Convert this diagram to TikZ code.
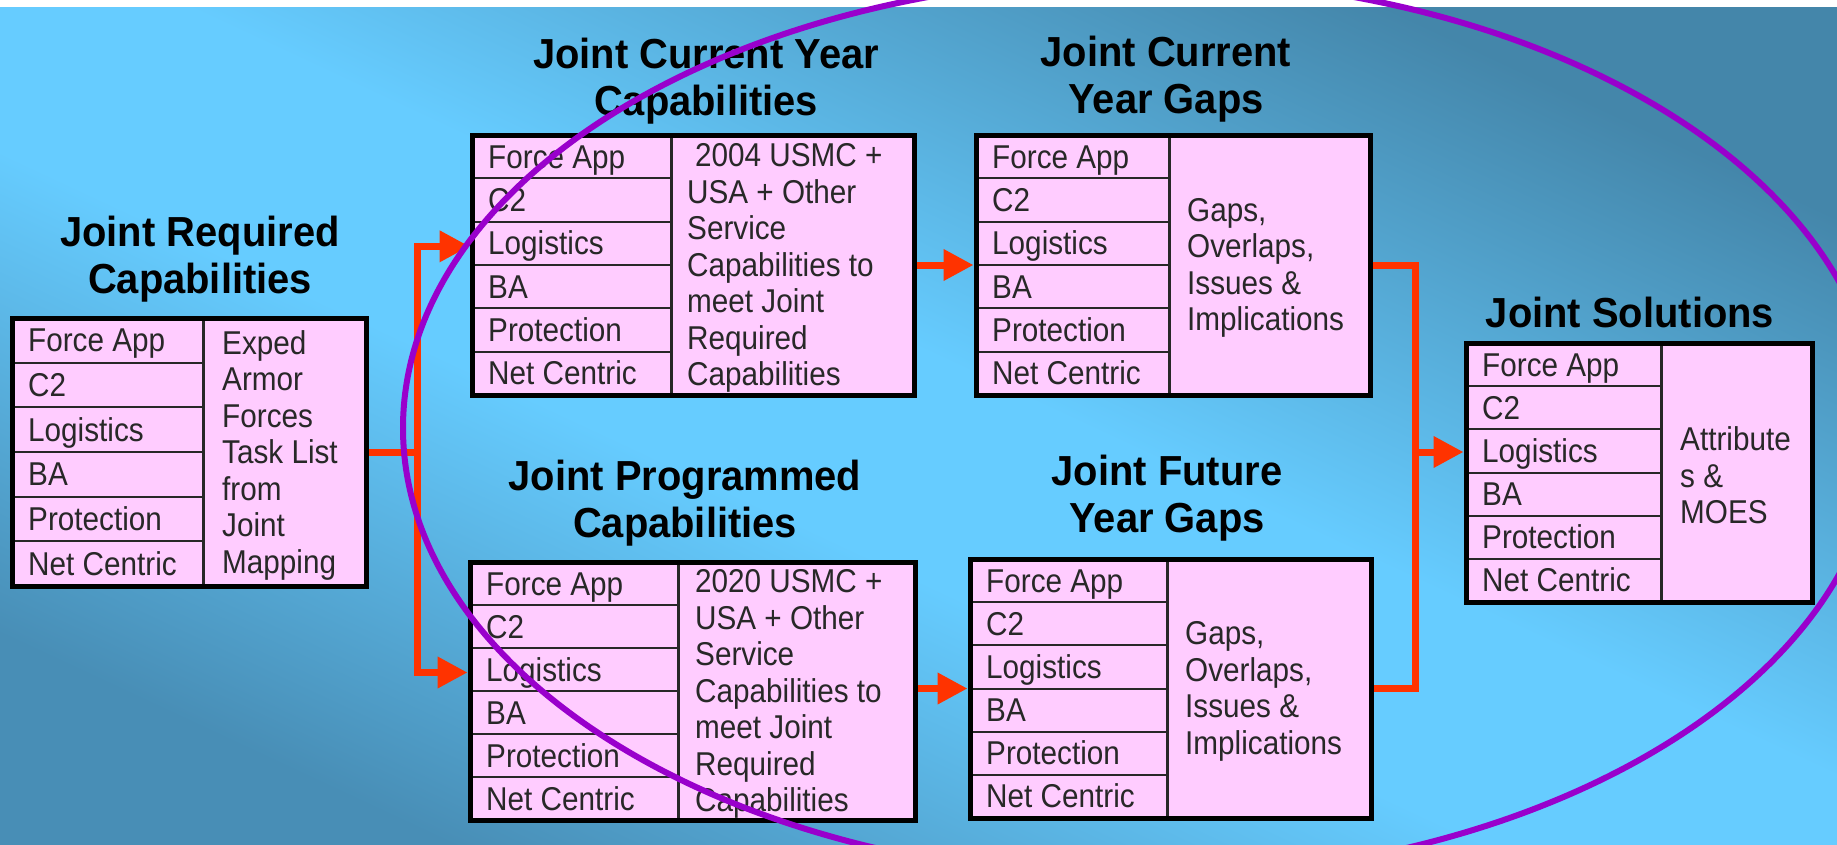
\documentclass[tikz,border=0pt]{standalone}
\usepackage{fontspec}
\setmainfont{Liberation Sans}
\newfontfamily\bodyfont{Liberation Sans}[FakeStretch=0.9]
\newfontfamily\titlefont{Liberation Sans}[FakeStretch=0.95]
\usetikzlibrary{arrows.meta}
\definecolor{bglt}{RGB}{102,204,255}
\definecolor{bgdkA}{RGB}{68,134,170}
\definecolor{bgdkB}{RGB}{72,142,182}
\definecolor{boxpink}{RGB}{255,204,255}
\definecolor{arrred}{RGB}{255,51,0}
\definecolor{ringpurple}{RGB}{153,0,204}
\definecolor{txtdark}{RGB}{40,40,40}
\pgfdeclareverticalshading{bgshade}{100bp}{color(0bp)=(bgdkB); color(25bp)=(bgdkB); color(44bp)=(bglt); color(53bp)=(bglt); color(75bp)=(bgdkA); color(100bp)=(bgdkA)}
\tikzset{
  boxframe/.style={draw=black, line width=5pt, inner sep=0pt, anchor=center},
  rowline/.style={draw=txtdark, line width=2pt},
  divline/.style={draw=txtdark, line width=3pt},
  rowtext/.style={font=\bodyfont\fontsize{33}{36.5}\selectfont, text=txtdark, inner sep=0pt, anchor=west, text height=24pt, text depth=7pt},
  celltext/.style={font=\bodyfont\fontsize{33}{36.5}\selectfont, text=txtdark, inner sep=0pt, anchor=west, align=left},
  titletext/.style={font=\titlefont\bfseries\fontsize{42}{47}\selectfont, text=black, align=center, inner sep=0pt},
  conn/.style={draw=arrred, line width=7pt},
  arr/.style={conn, -{Triangle[length=30pt,width=30pt]}},
  ring/.style={draw=ringpurple, line width=6pt}
}
% #1 name, #2 x0, #3 y0, #4 divider x, #5 x1, #6 y1, #7 text x, #8 right text
\newcommand{\capbox}[8]{%
  \fill[boxpink] (#2,#3) rectangle (#5,#6);
  \pgfmathsetmacro{\rh}{(#6-#3)/6}
  \foreach \i/\lbl in {1/Force App,2/C2,3/Logistics,4/BA,5/Protection,6/Net Centric}{
    \pgfmathsetmacro{\yc}{#3+(\i-0.5)*\rh}
    \pgfmathsetmacro{\yl}{#3+\i*\rh}
    \node[rowtext] (#1-r\i) at (#2+16,\yc+3) {\lbl};
    \ifnum\i<6 \draw[rowline] (#2,\yl) -- (#4,\yl); \fi
  }
  \draw[divline] (#4,#3) -- (#4,#6);
  \node[celltext] (#1-t) at (#7,{(#3+#6)/2+3}) {#8};
  \pgfmathsetmacro{\bw}{#5-#2}
  \pgfmathsetmacro{\bh}{#6-#3}
  \node[boxframe, minimum width=\bw pt, minimum height=\bh pt] (#1) at ({(#2+#5)/2},{(#3+#6)/2}) {};
}
\begin{document}
\begin{tikzpicture}[x=1pt,y=-1pt]
\useasboundingbox (0,0) rectangle (1837,844);
\fill[white] (0,0) rectangle (1837,7);
\shade[shading=bgshade, shading angle=-25] (0,7) rectangle (1837,844);

\capbox{b1}{12}{318}{203}{366}{586}{222}{Exped\\Armor\\Forces\\Task List\\from\\Joint\\Mapping}
\capbox{b2}{472}{135}{671}{914}{395}{687}{\hspace*{8pt}2004 USMC +\\USA + Other\\Service\\Capabilities to\\meet Joint\\Required\\Capabilities}
\capbox{b3}{470}{562}{678}{915}{820}{695}{2020 USMC +\\USA + Other\\Service\\Capabilities to\\meet Joint\\Required\\Capabilities}
\capbox{b4}{976}{135}{1169}{1370}{395}{1187}{Gaps,\\Overlaps,\\Issues \&\\Implications}
\capbox{b5}{970}{559}{1167}{1371}{818}{1185}{Gaps,\\Overlaps,\\Issues \&\\Implications}
\capbox{b6}{1466}{343}{1661}{1812}{602}{1680}{Attribute\\s \&\\MOES}

\node[titletext] (t1) at (200,259) {Joint Required\\Capabilities};
\node[titletext] (t2) at (706,81) {Joint Current Year\\Capabilities};
\node[titletext] (t3) at (685,503) {Joint Programmed\\Capabilities};
\node[titletext] (t4) at (1166,79) {Joint Current\\Year Gaps};
\node[titletext] (t5) at (1167,498) {Joint Future\\Year Gaps};
\node[titletext] (t6) at (1630,312) {Joint Solutions};

\coordinate (s1) at (417,452);
\coordinate (s2) at (1415,452);
\draw[conn] (b1.east) -- (s1);
\draw[arr] (s1) |- (b2.west |- b2-r3);
\draw[arr] (s1) |- (b3.west |- b3-r3);
\draw[arr] (b2.east) -- (b4.west);
\draw[arr] (b3.east |- b5.west) -- (b5.west);
\draw[conn] (b4.east) -| (s2) |- (b5.east);
\draw[arr] (s2) -- (s2 -| b6.west);

\begin{scope}
\clip (0,0) rectangle (1837,844);
\draw[ring] (1141,428) ellipse [x radius=738, y radius=450];
\end{scope}
\end{tikzpicture}
\end{document}
